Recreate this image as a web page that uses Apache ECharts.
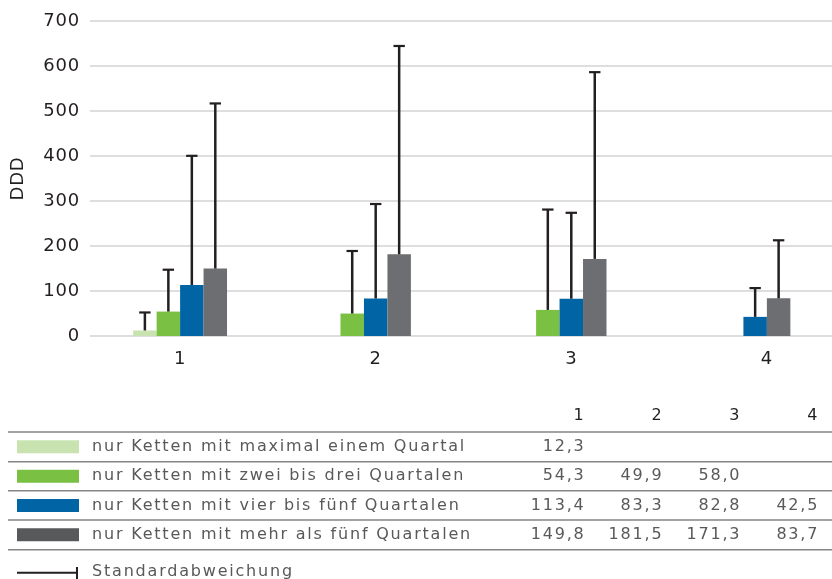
<!DOCTYPE html>
<html>
<head>
<meta charset="utf-8">
<script src="https://cdn.jsdelivr.net/npm/echarts@6/dist/echarts.min.js"></script>
<style>
html,body{margin:0;padding:0;background:#fff;}
#chart{width:832px;height:579px;}
</style>
</head>
<body>
<div id="chart"></div>
<script>
// ---- data ----
const categories = ['1', '2', '3', '4'];
const seriesNames = [
  'nur Ketten mit maximal einem Quartal',
  'nur Ketten mit zwei bis drei Quartalen',
  'nur Ketten mit vier bis fünf Quartalen',
  'nur Ketten mit mehr als fünf Quartalen'
];
const maxEinQuartal   = [12.3, null, null, null];
const zweiBisDrei     = [54.3, 49.9, 58.0, null];
const vierBisFuenf    = [113.4, 83.3, 82.8, 42.5];
const mehrAlsFuenf    = [149.8, 181.5, 171.3, 83.7];
// standard deviations (upper whisker length)
const sdMaxEinQuartal = [40, null, null, null];
const sdZweiBisDrei   = [93, 139, 223, null];
const sdVierBisFuenf  = [287, 210, 191, 64];
const sdMehrAlsFuenf  = [367, 463, 415, 129];
const yTicks = [0, 100, 200, 300, 400, 500, 600, 700];
const sdLabel = 'Standardabweichung';
const yName = 'DDD';

const means = [maxEinQuartal, zweiBisDrei, vierBisFuenf, mehrAlsFuenf];
const sds = [sdMaxEinQuartal, sdZweiBisDrei, sdVierBisFuenf, sdMehrAlsFuenf];
const barColors = ['#c8e3b0', '#7ac143', '#0064a5', '#6d6e71'];
const swatchColors = ['#c8e3b0', '#7ac143', '#0064a5', '#58595b'];

// letter spacing for canvas text (tracking like the original typesetting)
(function () {
  const P = CanvasRenderingContext2D.prototype;
  const orig = P.fillText;
  P.fillText = function (t, x, y, m) {
    const f = this.font || '';
    let ls = '0px';
    if (f.indexOf('16px') >= 0) ls = '1.8px';
    else if (f.indexOf('18px') >= 0) ls = '0.8px';
    try { this.letterSpacing = ls; } catch (e) {}
    const r = m === undefined ? orig.call(this, t, x, y) : orig.call(this, t, x, y, m);
    try { this.letterSpacing = '0px'; } catch (e) {}
    return r;
  };
})();

// build custom-series data: [catIndex, mean, sd, seriesIndex, rank, count]
const barData = [];
categories.forEach((c, ci) => {
  const present = [];
  means.forEach((arr, si) => { if (arr[ci] != null) present.push(si); });
  present.forEach((si, rank) => {
    barData.push([ci, means[si][ci], sds[si][ci], si, rank, present.length]);
  });
});

const FONT = 'DejaVu Sans';
const DARK = '#231f20';
const GREYTXT = '#595959';

// table graphics
const graphics = [];
const lineYs = [432, 461.7, 490.8, 520, 549.7];
const colEnd = i => 585.5 + i * 77.9;
categories.forEach((c, i) => {
  graphics.push({ type: 'text', x: colEnd(i), y: 416, style: { text: c, font: '16px "' + FONT + '"', fill: DARK, textAlign: 'right', textVerticalAlign: 'middle' } });
});
lineYs.forEach(y => {
  graphics.push({ type: 'line', shape: { x1: 8, y1: y, x2: 832, y2: y }, style: { stroke: '#858585', lineWidth: 1.6 } });
});
seriesNames.forEach((name, si) => {
  const cy = (lineYs[si] + lineYs[si + 1]) / 2;
  graphics.push({ type: 'rect', shape: { x: 17, y: cy - 6.5, width: 62, height: 13 }, style: { fill: swatchColors[si] } });
  graphics.push({ type: 'text', x: 92, y: cy, style: { text: name, font: '16px "' + FONT + '"', fill: GREYTXT, textVerticalAlign: 'middle' } });
  means[si].forEach((v, ci) => {
    if (v == null) return;
    graphics.push({ type: 'text', x: colEnd(ci), y: cy, style: { text: v.toFixed(1).replace('.', ','), font: '16px "' + FONT + '"', fill: GREYTXT, textAlign: 'right', textVerticalAlign: 'middle' } });
  });
});
// Standardabweichung legend
graphics.push({ type: 'line', shape: { x1: 17, y1: 572.7, x2: 77, y2: 572.7 }, style: { stroke: DARK, lineWidth: 2 } });
graphics.push({ type: 'line', shape: { x1: 77, y1: 567, x2: 77, y2: 579 }, style: { stroke: DARK, lineWidth: 2 } });
graphics.push({ type: 'text', x: 92, y: 571.5, style: { text: sdLabel, font: '16px "' + FONT + '"', fill: GREYTXT, textVerticalAlign: 'middle' } });

const catIdx = categories.map((c, i) => i);
const chart = echarts.init(document.getElementById('chart'), null, { renderer: 'canvas' });
chart.setOption({
  animation: false,
  backgroundColor: '#fff',
  grid: { left: 90, right: 0, top: 21, bottom: 243, containLabel: false, outerBoundsMode: 'none' },
  xAxis: {
    type: 'value', min: -0.4606, max: 3.3329,
    axisLine: { show: false }, axisTick: { show: false }, splitLine: { show: false },
    axisLabel: {
      color: DARK, fontFamily: FONT, fontSize: 18, margin: 14,
      customValues: catIdx, showMinLabel: true, showMaxLabel: true, hideOverlap: false,
      formatter: v => categories[Math.round(v)]
    }
  },
  yAxis: {
    type: 'value', min: 0, max: 700, interval: 100,
    name: yName, nameLocation: 'middle', nameGap: 63,
    nameTextStyle: { color: DARK, fontFamily: FONT, fontSize: 18 },
    axisLine: { show: false }, axisTick: { show: false },
    axisLabel: { color: DARK, fontFamily: FONT, fontSize: 18, margin: 10,
      formatter: v => (yTicks.indexOf(v) >= 0 ? String(v) : '') },
    splitLine: { lineStyle: { color: '#dedede', width: 2 } }
  },
  series: [{
    type: 'custom',
    data: barData,
    renderItem: function (params, api) {
      const ci = api.value(0), mean = api.value(1), sd = api.value(2);
      const si = api.value(3), rank = api.value(4), n = api.value(5);
      const band = api.size([1, 0])[0];
      const bw = band * 0.12;
      const base = api.coord([ci, 0]);
      const cx = base[0] + (rank - (n - 1) / 2) * bw;
      const top = api.coord([ci, mean])[1];
      const eb = api.coord([ci, mean + sd])[1];
      return {
        type: 'group',
        children: [
          { type: 'rect', shape: { x: cx - bw / 2, y: top, width: bw, height: base[1] - top }, style: { fill: barColors[si] } },
          { type: 'line', shape: { x1: cx, y1: top, x2: cx, y2: eb }, style: { stroke: DARK, lineWidth: 2.5 }, z2: 10 },
          { type: 'line', shape: { x1: cx - 5.7, y1: eb, x2: cx + 5.7, y2: eb }, style: { stroke: DARK, lineWidth: 2.2 }, z2: 10 }
        ]
      };
    }
  }],
  graphic: graphics
});
</script>
</body>
</html>
